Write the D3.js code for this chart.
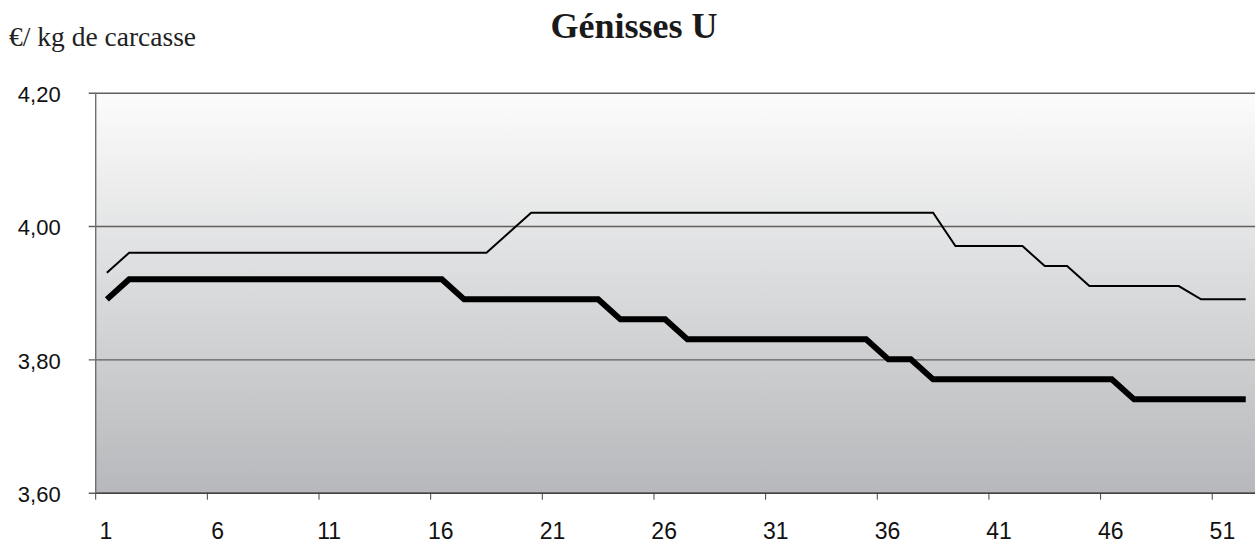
<!DOCTYPE html>
<html>
<head>
<meta charset="utf-8">
<script src="https://cdn.jsdelivr.net/npm/d3@7"></script>
<style>
  html, body { margin: 0; padding: 0; background: #fff; }
  svg { display: block; }
</style>
</head>
<body>
<div id="chart"></div>
<script>
// weeks of the year (categories)
const weeks = [1, 2, 3, 4, 5, 6, 7, 8, 9, 10, 11, 12, 13, 14, 15, 16, 17, 18, 19, 20,
  21, 22, 23, 24, 25, 26, 27, 28, 29, 30, 31, 32, 33, 34, 35, 36, 37, 38, 39, 40,
  41, 42, 43, 44, 45, 46, 47, 48, 49, 50, 51, 52];

// thin line (€/kg)
const prixFin = [3.93, 3.96, 3.96, 3.96, 3.96, 3.96, 3.96, 3.96, 3.96, 3.96,
  3.96, 3.96, 3.96, 3.96, 3.96, 3.96, 3.96, 3.96, 3.99, 4.02,
  4.02, 4.02, 4.02, 4.02, 4.02, 4.02, 4.02, 4.02, 4.02, 4.02,
  4.02, 4.02, 4.02, 4.02, 4.02, 4.02, 4.02, 4.02, 3.97, 3.97,
  3.97, 3.97, 3.94, 3.94, 3.91, 3.91, 3.91, 3.91, 3.91, 3.89,
  3.89, 3.89];

// thick line (€/kg)
const prixEpais = [3.89, 3.92, 3.92, 3.92, 3.92, 3.92, 3.92, 3.92, 3.92, 3.92,
  3.92, 3.92, 3.92, 3.92, 3.92, 3.92, 3.89, 3.89, 3.89, 3.89,
  3.89, 3.89, 3.89, 3.86, 3.86, 3.86, 3.83, 3.83, 3.83, 3.83,
  3.83, 3.83, 3.83, 3.83, 3.83, 3.80, 3.80, 3.77, 3.77, 3.77,
  3.77, 3.77, 3.77, 3.77, 3.77, 3.77, 3.74, 3.74, 3.74, 3.74,
  3.74, 3.74];

const xTickLabels = [1, 6, 11, 16, 21, 26, 31, 36, 41, 46, 51];
const yTickValues = [3.60, 3.80, 4.00, 4.20];
const yDomain = [3.60, 4.20];

const chartTitle = 'Génisses U';
const unitLabel = '€/ kg de carcasse';

class PriceLineChart {
  constructor(_config) {
    this.config = {
      parentElement: _config.parentElement,
      containerWidth: 1255,
      containerHeight: 547,
      margin: {
        top: 92.7, right: -1.9, bottom: 54.3, left: 95.7,
      },
    };
    this.initVis();
  }

  initVis() {
    const vis = this;

    vis.width = vis.config.containerWidth - vis.config.margin.left - vis.config.margin.right;
    vis.height = vis.config.containerHeight - vis.config.margin.top - vis.config.margin.bottom;

    vis.svg = d3.select(vis.config.parentElement).append('svg')
      .attr('width', vis.config.containerWidth)
      .attr('height', vis.config.containerHeight);

    // background gradient of the plot area
    const grad = vis.svg.append('defs').append('linearGradient')
      .attr('id', 'bg')
      .attr('x1', 0).attr('y1', 0)
      .attr('x2', 0).attr('y2', 1);
    grad.append('stop').attr('offset', '0%').attr('stop-color', '#fcfcfc');
    grad.append('stop').attr('offset', '100%').attr('stop-color', '#b6b8bb');

    vis.chart = vis.svg.append('g')
      .attr('transform', `translate(${vis.config.margin.left},${vis.config.margin.top})`);

    vis.chart.append('rect')
      .attr('width', vis.width)
      .attr('height', vis.height)
      .attr('fill', 'url(#bg)');

    vis.xScale = d3.scaleBand()
      .domain(weeks)
      .range([0, vis.width])
      .padding(0);

    vis.yScale = d3.scaleLinear()
      .domain(yDomain)
      .range([vis.height, 0]);

    vis.xAxis = d3.axisBottom(vis.xScale)
      .tickValues(xTickLabels)
      .tickSizeOuter(0)
      .tickSizeInner(7);

    vis.yAxis = d3.axisLeft(vis.yScale)
      .tickValues(yTickValues)
      .tickSizeOuter(0)
      .tickSizeInner(-vis.width)
      .tickFormat((d) => d3.format('.2f')(d).replace('.', ','));

    vis.yAxisG = vis.chart.append('g').attr('class', 'axis y-axis');
    vis.xAxisG = vis.chart.append('g')
      .attr('class', 'axis x-axis')
      .attr('transform', `translate(0,${vis.height})`);

    vis.lineG = vis.chart.append('g');

    vis.svg.append('text')
      .attr('x', 634)
      .attr('y', 38)
      .attr('text-anchor', 'middle')
      .attr('font-family', '"Liberation Serif", "Times New Roman", serif')
      .attr('font-weight', 'bold')
      .attr('font-size', 36)
      .attr('fill', '#1a1a1a')
      .text(chartTitle);

    vis.svg.append('text')
      .attr('x', 9)
      .attr('y', 46)
      .attr('font-family', '"Liberation Serif", "Times New Roman", serif')
      .attr('font-size', 27.5)
      .attr('fill', '#222')
      .text(unitLabel);

    vis.renderVis();
  }

  renderVis() {
    const vis = this;
    const bw = vis.xScale.bandwidth();

    // y axis with gridlines
    vis.yAxisG.call(vis.yAxis)
      .call((g) => g.select('.domain').remove());
    vis.yAxisG.selectAll('.tick line')
      .attr('x1', -7)
      .attr('stroke', '#5f5f5f')
      .attr('stroke-width', 1.4);
    vis.yAxisG.selectAll('.tick text')
      .attr('x', -35)
      .attr('dy', '0.4em')
      .attr('font-family', '"Liberation Sans", Arial, sans-serif')
      .attr('font-size', 22)
      .attr('fill', '#111');

    vis.chart.append('line')
      .attr('x1', 0).attr('x2', 0)
      .attr('y1', 0).attr('y2', vis.height)
      .attr('stroke', '#6f6f6f')
      .attr('stroke-width', 1.4);

    // x axis: ticks on category boundaries, labels centred
    vis.xAxisG.call(vis.xAxis);
    vis.xAxisG.select('.domain')
      .attr('stroke', '#444')
      .attr('stroke-width', 1.6);
    vis.xAxisG.selectAll('.tick line')
      .attr('x1', -bw / 2)
      .attr('x2', -bw / 2)
      .attr('stroke', '#444');
    vis.xAxisG.selectAll('.tick text')
      .attr('x', -1)
      .attr('y', 30)
      .attr('font-family', '"Liberation Sans", Arial, sans-serif')
      .attr('font-size', 23)
      .attr('fill', '#111');

    const line = (vals) => d3.line()
      .x((d, i) => vis.xScale(weeks[i]) + bw / 2)
      .y((d) => vis.yScale(d))(vals);

    vis.lineG.append('path')
      .attr('d', line(prixFin))
      .attr('fill', 'none')
      .attr('stroke', '#000')
      .attr('stroke-width', 2);

    vis.lineG.append('path')
      .attr('d', line(prixEpais))
      .attr('fill', 'none')
      .attr('stroke', '#000')
      .attr('stroke-width', 6);
  }
}

new PriceLineChart({ parentElement: '#chart' });
</script>
</body>
</html>
